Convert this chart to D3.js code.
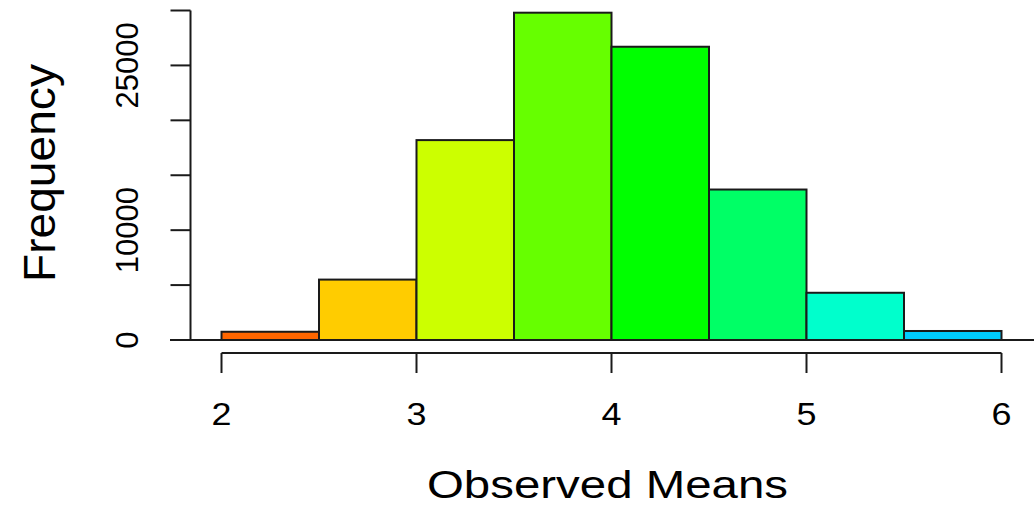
<!DOCTYPE html>
<html>
<head>
<meta charset="utf-8">
<script src="https://cdn.jsdelivr.net/npm/d3@7"></script>
<style>
  html, body { margin: 0; padding: 0; background: #ffffff; }
  svg { display: block; }
  text { font-family: "Liberation Sans", Arial, Helvetica, sans-serif; fill: #000; }
</style>
</head>
<body>
<svg id="chart" width="1036" height="508"></svg>
<script>
// ---- data ----
const binStarts = [2.0, 2.5, 3.0, 3.5, 4.0, 4.5, 5.0, 5.5];
const binEnds   = [2.5, 3.0, 3.5, 4.0, 4.5, 5.0, 5.5, 6.0];
const counts    = [750, 5500, 18200, 29800, 26700, 13700, 4300, 820];
const barColors = ["#FF6600", "#FFCC00", "#CCFF00", "#66FF00", "#00FF00", "#00FF66", "#00FFCC", "#00CCFF"];
const xTicks = [2, 3, 4, 5, 6];
const yTicks = [0, 5000, 10000, 15000, 20000, 25000, 30000];
const yTickLabels = [0, 10000, 25000];
const xTitle = "Observed Means";
const yTitle = "Frequency";

// ---- drawing ----
const svg = d3.select("#chart");
const x = d3.scaleLinear().domain([2, 6]).range([221.5, 1001.5]);
const y = d3.scaleLinear().domain([0, 30000]).range([340, 10.5]);
const ink = "#1a1a1a";

// baseline
svg.append("line")
  .attr("x1", 170).attr("x2", 1034)
  .attr("y1", y(0)).attr("y2", y(0))
  .attr("stroke", ink).attr("stroke-width", 2);

// bars
svg.append("g").selectAll("rect")
  .data(counts)
  .join("rect")
  .attr("x", (d, i) => x(binStarts[i]))
  .attr("width", (d, i) => x(binEnds[i]) - x(binStarts[i]))
  .attr("y", d => y(d))
  .attr("height", d => y(0) - y(d))
  .attr("fill", (d, i) => barColors[i])
  .attr("stroke", ink)
  .attr("stroke-width", 2);

// x axis
const xAxisY = 353;
const gx = svg.append("g");
gx.append("line")
  .attr("x1", x(xTicks[0])).attr("x2", x(xTicks[xTicks.length - 1]))
  .attr("y1", xAxisY).attr("y2", xAxisY)
  .attr("stroke", ink).attr("stroke-width", 2);
gx.selectAll("line.tick").data(xTicks).join("line")
  .attr("class", "tick")
  .attr("x1", d => x(d)).attr("x2", d => x(d))
  .attr("y1", xAxisY).attr("y2", xAxisY + 20)
  .attr("stroke", ink).attr("stroke-width", 2);
gx.selectAll("text").data(xTicks).join("text")
  .attr("x", d => x(d))
  .attr("y", 424.5)
  .attr("text-anchor", "middle")
  .attr("font-size", 30.5)
  .attr("textLength", 20)
  .attr("lengthAdjust", "spacingAndGlyphs")
  .text(d => d);

// y axis
const yAxisX = 190.5;
const gy = svg.append("g");
gy.append("line")
  .attr("x1", yAxisX).attr("x2", yAxisX)
  .attr("y1", y(yTicks[yTicks.length - 1])).attr("y2", y(0))
  .attr("stroke", ink).attr("stroke-width", 2);
gy.selectAll("line.tick").data(yTicks).join("line")
  .attr("class", "tick")
  .attr("x1", yAxisX - 20).attr("x2", yAxisX)
  .attr("y1", d => y(d)).attr("y2", d => y(d))
  .attr("stroke", ink).attr("stroke-width", 2);
gy.selectAll("text").data(yTickLabels).join("text")
  .attr("transform", d => `translate(138,${y(d)}) rotate(-90)`)
  .attr("text-anchor", "middle")
  .attr("font-size", 31)
  .text(d => d);

// titles
svg.append("text")
  .attr("x", 427).attr("y", 498)
  .attr("font-size", 38)
  .attr("textLength", 361)
  .attr("lengthAdjust", "spacingAndGlyphs")
  .text(xTitle);

svg.append("text")
  .attr("transform", "translate(55,173) rotate(-90)")
  .attr("text-anchor", "middle")
  .attr("font-size", 45)
  .attr("textLength", 218)
  .attr("lengthAdjust", "spacingAndGlyphs")
  .text(yTitle);
</script>
</body>
</html>
